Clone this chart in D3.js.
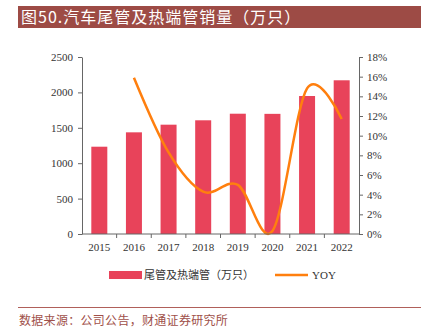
<!DOCTYPE html>
<html>
<head>
<meta charset="utf-8">
<script src="https://cdn.jsdelivr.net/npm/d3@7"></script>
<style>
  body { margin: 0; background: #fff; }
  svg { display: block; }
</style>
</head>
<body>
<script>
var years = ["2015", "2016", "2017", "2018", "2019", "2020", "2021", "2022"];
var sales = [1233, 1436, 1544, 1606, 1699, 1697, 1949, 2171];   // 万只
var yoy = [null, 15.9, 8.3, 4.3, 5.0, 0.3, 14.8, 11.7];         // %
var leftTicks = [0, 500, 1000, 1500, 2000, 2500];
var rightTicks = [0, 2, 4, 6, 8, 10, 12, 14, 16, 18];

var W = 425, H = 332;
var x0 = 82, x1 = 359, yTop = 57, yBot = 234;
var serif = "'Liberation Serif', 'Times New Roman', serif";
var cjk = "'Noto Sans CJK SC', sans-serif";

var svg = d3.select("body").append("svg")
    .attr("width", W)
    .attr("height", H);

// title bar
svg.append("rect")
    .attr("x", 18).attr("y", 6)
    .attr("width", 403).attr("height", 22)
    .attr("fill", "#9d4b45");
svg.append("text")
    .attr("x", 21).attr("y", 23)
    .attr("fill", "#fff")
    .style("font-family", cjk)
    .style("font-size", "16px")
    .style("letter-spacing", "1px")
    .text("图50.汽车尾管及热端管销量（万只）");

var xScale = d3.scaleBand()
    .domain(years)
    .range([x0, x1]);

var yLeft = d3.scaleLinear().domain([0, 2500]).range([yBot, yTop]);
var yRight = d3.scaleLinear().domain([0, 18]).range([yBot, yTop]);

// bars
svg.selectAll(".bar")
    .data(sales)
    .enter()
    .append("rect")
    .attr("class", "bar")
    .attr("x", function (d, i) { return xScale(years[i]) + xScale.bandwidth() / 2 - 8; })
    .attr("y", function (d) { return yLeft(d); })
    .attr("width", 16)
    .attr("height", function (d) { return yBot - yLeft(d); })
    .attr("fill", "#e8435a");

// YOY line
var line = d3.line()
    .defined(function (d) { return d != null; })
    .x(function (d, i) { return xScale(years[i]) + xScale.bandwidth() / 2; })
    .y(function (d) { return yRight(d); })
    .curve(d3.curveCatmullRom.alpha(0));

svg.append("path")
    .datum(yoy)
    .attr("d", line)
    .attr("fill", "none")
    .attr("stroke", "#ff7f0e")
    .attr("stroke-width", 2.5);

// axes
var leftAxis = d3.axisLeft(yLeft).tickValues(leftTicks)
    .tickFormat(d3.format("d"))
    .tickSize(4).tickSizeOuter(0).tickPadding(5);
var rightAxis = d3.axisRight(yRight).tickValues(rightTicks)
    .tickFormat(function (d) { return d + "%"; })
    .tickSize(4).tickSizeOuter(0).tickPadding(4);

var gl = svg.append("g").attr("transform", "translate(" + x0 + ",0)").call(leftAxis);
var gr = svg.append("g").attr("transform", "translate(" + x1 + ",0)").call(rightAxis);

// x axis with ticks between categories
var gx = svg.append("g").attr("transform", "translate(0," + yBot + ")");
gx.append("line")
    .attr("x1", x0).attr("x2", x1)
    .attr("stroke", "#666");
gx.selectAll(".xt")
    .data(years.slice(1))
    .enter()
    .append("line")
    .attr("x1", function (d) { return xScale(d); })
    .attr("x2", function (d) { return xScale(d); })
    .attr("y1", 0).attr("y2", 4)
    .attr("stroke", "#666");
gx.selectAll(".xl")
    .data(years)
    .enter()
    .append("text")
    .attr("x", function (d) { return xScale(d) + xScale.bandwidth() / 2; })
    .attr("y", 17)
    .attr("text-anchor", "middle")
    .attr("fill", "#333")
    .style("font-family", serif)
    .style("font-size", "11px")
    .text(function (d) { return d; });

[gl, gr].forEach(function (g) {
    g.select(".domain").attr("stroke", "#666");
    g.selectAll(".tick line").attr("stroke", "#666");
    g.selectAll("text")
        .attr("fill", "#333")
        .style("font-family", serif)
        .style("font-size", "11px");
});

// legend
var lg = svg.append("g");
lg.append("rect")
    .attr("x", 109).attr("y", 271)
    .attr("width", 33).attr("height", 8)
    .attr("fill", "#e8435a");
lg.append("text")
    .attr("x", 144).attr("y", 279)
    .attr("fill", "#333")
    .style("font-family", cjk)
    .style("font-size", "11px")
    .text("尾管及热端管（万只）");
lg.append("line")
    .attr("x1", 275).attr("x2", 308)
    .attr("y1", 275).attr("y2", 275)
    .attr("stroke", "#ff7f0e")
    .attr("stroke-width", 2.5);
lg.append("text")
    .attr("x", 312).attr("y", 279)
    .attr("fill", "#333")
    .style("font-family", serif)
    .style("font-size", "11px")
    .text("YOY");

// footer
svg.append("line")
    .attr("x1", 18).attr("x2", 421)
    .attr("y1", 307.5).attr("y2", 307.5)
    .attr("stroke", "#b0605a")
    .attr("stroke-width", 1);
svg.append("text")
    .attr("x", 19).attr("y", 325)
    .attr("fill", "#a0504a")
    .style("font-family", cjk)
    .style("font-size", "12px")
    .style("letter-spacing", "0.3px")
    .text("数据来源：公司公告，财通证券研究所");
</script>
</body>
</html>
